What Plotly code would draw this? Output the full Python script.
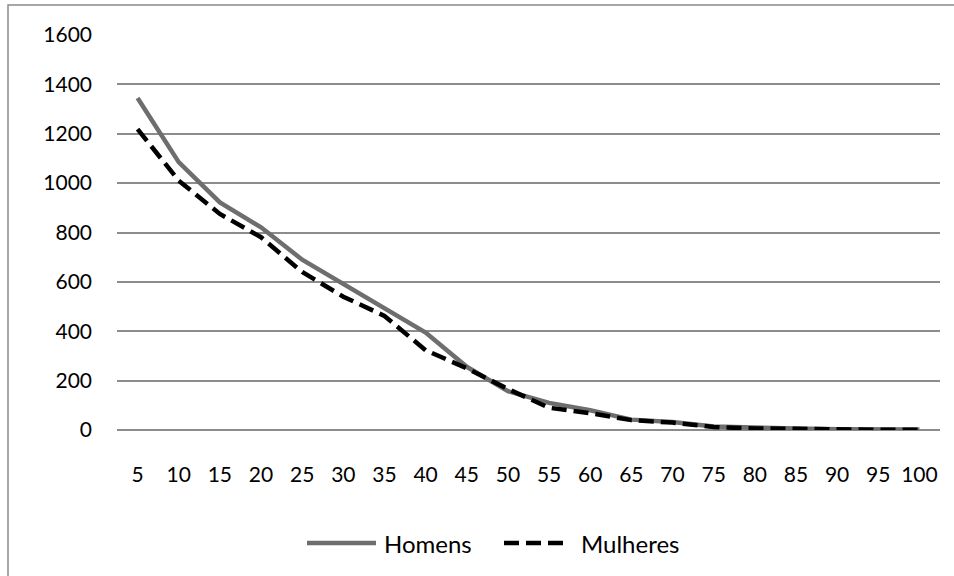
import plotly.graph_objects as go

# Age (years) and survivors per sex
idades = ["5", "10", "15", "20", "25", "30", "35", "40", "45", "50",
          "55", "60", "65", "70", "75", "80", "85", "90", "95", "100"]
homens = [1345, 1085, 922, 821, 690, 593, 492, 395, 256, 157,
          110, 80, 42, 32, 14, 8, 6, 3, 2, 2]
mulheres = [1219, 1010, 875, 781, 640, 540, 462, 323, 250, 166,
            90, 68, 40, 30, 12, 6, 5, 2, 1, 1]
y_ticks = [0, 200, 400, 600, 800, 1000, 1200, 1400, 1600]

W, H = 954, 576
L, R, T, B = 117, 14, 35, 146
pw, ph = W - L - R, H - T - B

def px(x):
    return (x - L) / pw

def py(y):
    return (H - B - y) / ph

FONT = "Lato"
GRID = "#8c8c8c"
C_H = "#6e6e6e"
C_M = "#000000"

fig = go.Figure()
fig.add_trace(go.Scatter(x=idades, y=homens, mode="lines", name="Homens",
                         line=dict(color=C_H, width=4.5), showlegend=False))
fig.add_trace(go.Scatter(x=idades, y=mulheres, mode="lines", name="Mulheres",
                         line=dict(color=C_M, width=4.5, dash="15px,7px"),
                         showlegend=False))

shapes = [
    # outer chart frame
    dict(type="rect", xref="paper", yref="paper",
         x0=px(8), x1=px(W + 10), y0=py(H + 10), y1=py(5),
         line=dict(color="#8a8a8a", width=1.5), fillcolor="rgba(0,0,0,0)"),
    # legend samples
    dict(type="line", xref="paper", yref="paper",
         x0=px(307), x1=px(376), y0=py(543), y1=py(543),
         line=dict(color=C_H, width=4.5)),
    dict(type="line", xref="paper", yref="paper",
         x0=px(504), x1=px(563), y0=py(543), y1=py(543),
         line=dict(color=C_M, width=4.5, dash="15px,7px")),
]

annotations = [
    dict(text="Homens", xref="paper", yref="paper", x=px(382), y=py(543),
         xanchor="left", yanchor="middle", showarrow=False,
         font=dict(family=FONT, size=24, color="#000")),
    dict(text="Mulheres", xref="paper", yref="paper", x=px(579), y=py(543),
         xanchor="left", yanchor="middle", showarrow=False,
         font=dict(family=FONT, size=24, color="#000")),
]

fig.update_layout(
    width=W, height=H,
    margin=dict(l=L, r=R, t=T, b=B),
    paper_bgcolor="white", plot_bgcolor="white",
    font=dict(family=FONT, size=21, color="#000"),
    shapes=shapes, annotations=annotations,
    showlegend=False,
)
fig.update_xaxes(type="category", range=[-0.5, 19.5], showgrid=False,
                 showline=False, zeroline=False, ticks="",
                 ticklabelstandoff=30)
fig.update_yaxes(range=[0, 1600], tickvals=y_ticks, showgrid=True,
                 gridcolor=GRID, gridwidth=1.5, zeroline=True,
                 zerolinecolor=GRID, zerolinewidth=1.5, showline=False,
                 ticks="", ticklabelstandoff=24)

fig.write_html("out.html")
